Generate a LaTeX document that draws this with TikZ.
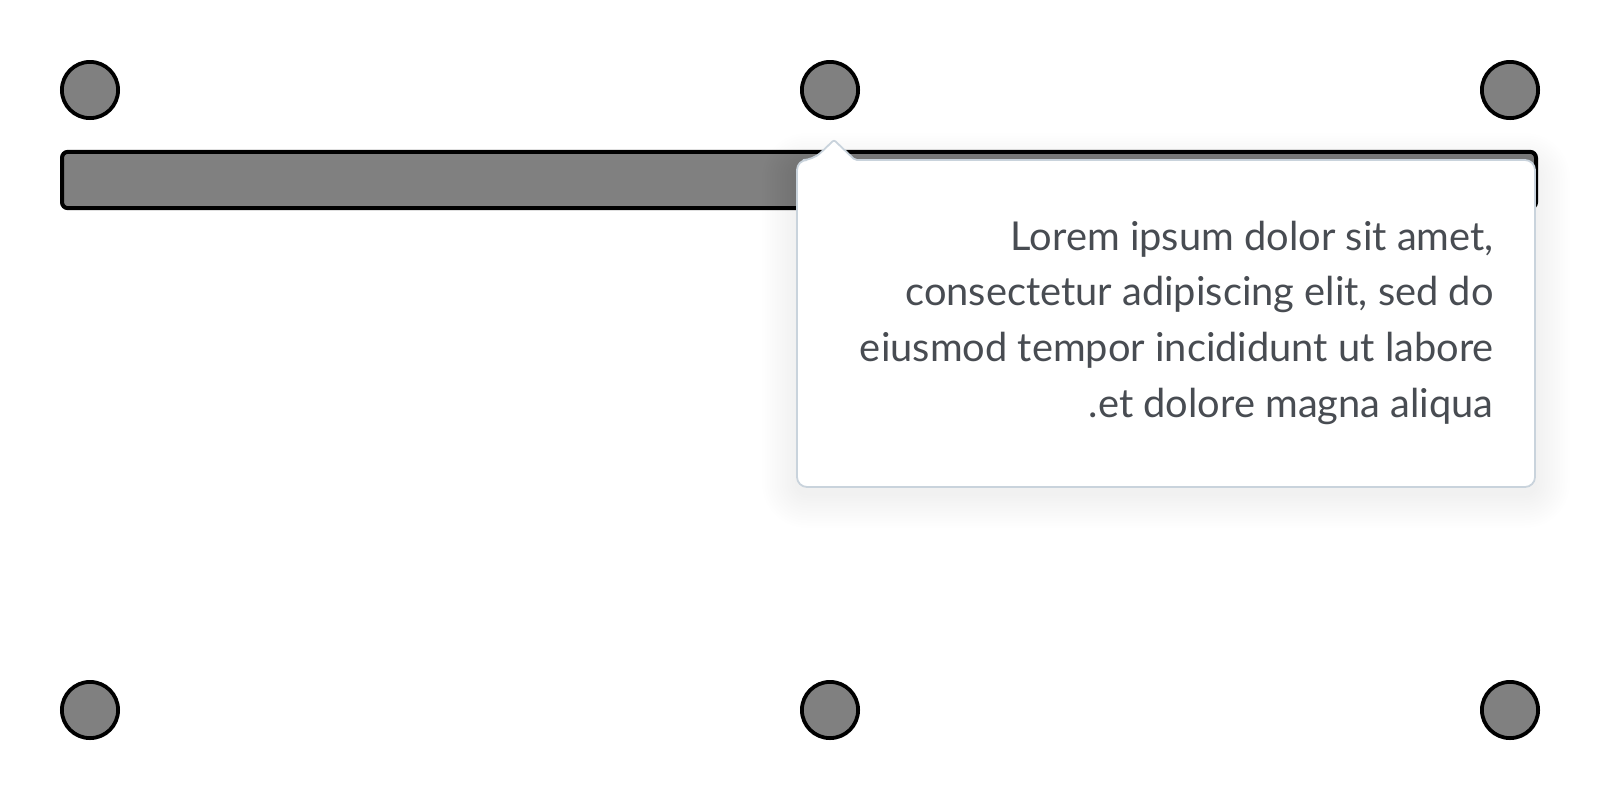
\documentclass[tikz,border=0pt]{standalone}
\usepackage{fontspec}
\setmainfont{Lato}
\definecolor{dotgray}{HTML}{808080}
\definecolor{tipborder}{HTML}{C9D3DC}
\definecolor{tiptext}{HTML}{484C52}
\tikzset{
  dot/.style={circle, draw=black, fill=dotgray, line width=1.9pt, minimum size=28.1pt, inner sep=0pt},
  barbox/.style={rectangle, draw=black, fill=dotgray, line width=2pt, rounded corners=3pt,
     minimum width=737pt, minimum height=28.2pt, inner sep=0pt},
  tipline/.style={anchor=base east, inner sep=0pt, text=tiptext, font=\fontsize{19.9pt}{27.85pt}\selectfont}
}
\begin{document}
\begin{tikzpicture}[x=0.5pt, y=-0.5pt]
\useasboundingbox (0,0) rectangle (1600,800);
% dots
\node[dot] (c1) at (90,90) {};
\node[dot] (c2) at (830,90) {};
\node[dot] (c3) at (1510,90) {};
\node[dot] (c4) at (90,710) {};
\node[dot] (c5) at (830,710) {};
\node[dot] (c6) at (1510,710) {};
% bar
\node[barbox] (bar) at (799,180) {};
% tooltip shadow
\foreach \i in {1,...,14}{
  \fill[black, opacity=0.005, rounded corners={5pt+1.25pt*\i}]
    ({797-2.5*\i},{168-2.5*\i}) rectangle ({1535+2.5*\i},{493+2.5*\i});
}
% tooltip
\draw[draw=tipborder, fill=white, line width=0.9pt, rounded corners=5pt]
  (797,320) -- (797,160) -- (813,160) [rounded corners=1pt] -- (834,140) -- (855,160)
  [rounded corners=5pt] -- (1535,160) -- (1535,487) -- (797,487) -- cycle;
% text
\node[tipline] (t1) at (1494,250) {Lorem ipsum dolor sit amet,};
\node[tipline] (t2) at (1494,305.7) {consectetur adipiscing elit, sed do};
\node[tipline] (t3) at (1494,361.4) {eiusmod tempor incididunt ut labore};
\node[tipline] (t4) at (1494,417.1) {.et dolore magna aliqua};
\end{tikzpicture}
\end{document}
